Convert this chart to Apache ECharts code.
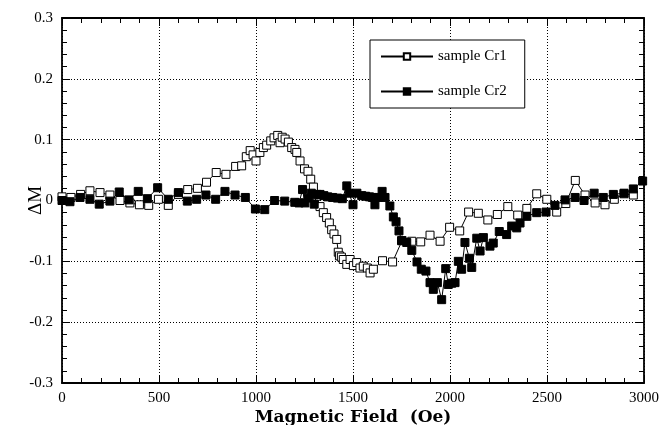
<!DOCTYPE html>
<html>
<head>
<meta charset="utf-8">
<script src="https://cdn.jsdelivr.net/npm/echarts@6/dist/echarts.min.js"></script>
<style>html,body{margin:0;padding:0;background:#fff}#c{width:664px;height:425px}</style>
</head>
<body>
<div id="c"></div>
<script>
var seriesNames = ['sample Cr1', 'sample Cr2'];
var xTicks = [0, 500, 1000, 1500, 2000, 2500, 3000];
var yTicks = [-0.3, -0.2, -0.1, 0, 0.1, 0.2, 0.3];

var cr1X = [0, 46, 96, 144, 196, 247, 299, 350, 399, 447, 497, 548, 600, 648, 698, 745, 795, 845, 895, 926, 950, 970, 985, 1000, 1020, 1038, 1055, 1076, 1093, 1112, 1124, 1135, 1150, 1167, 1184, 1201, 1210, 1227, 1250, 1268, 1282, 1296, 1313, 1330, 1347, 1364, 1378, 1390, 1402, 1416, 1424, 1430, 1440, 1450, 1468, 1485, 1502, 1519, 1536, 1553, 1574, 1588, 1605, 1652, 1704, 1753, 1803, 1849, 1897, 1949, 1998, 2050, 2096, 2146, 2195, 2244, 2298, 2349, 2396, 2447, 2499, 2550, 2597, 2646, 2696, 2748, 2799, 2847, 2897, 2945];
var cr1Y = [0.006, 0.005, 0.010, 0.016, 0.013, 0.009, 0.000, -0.004, -0.007, -0.008, 0.002, -0.008, 0.010, 0.018, 0.020, 0.030, 0.046, 0.043, 0.056, 0.057, 0.072, 0.082, 0.075, 0.065, 0.079, 0.087, 0.091, 0.098, 0.103, 0.107, 0.095, 0.104, 0.101, 0.096, 0.087, 0.084, 0.079, 0.065, 0.052, 0.048, 0.035, 0.022, 0.007, -0.010, -0.020, -0.028, -0.037, -0.048, -0.055, -0.064, -0.085, -0.091, -0.093, -0.097, -0.105, -0.097, -0.107, -0.102, -0.111, -0.108, -0.111, -0.119, -0.113, -0.099, -0.101, -0.066, -0.067, -0.068, -0.057, -0.067, -0.044, -0.050, -0.019, -0.021, -0.032, -0.023, -0.010, -0.024, -0.013, 0.011, 0.002, -0.019, -0.005, 0.033, 0.009, -0.004, -0.007, 0.002, 0.011, 0.009];

var cr2X = [0, 41, 93, 144, 192, 247, 295, 345, 393, 440, 493, 548, 600, 646, 694, 742, 792, 840, 892, 945, 997, 1045, 1096, 1148, 1200, 1222, 1240, 1252, 1268, 1285, 1300, 1315, 1330, 1350, 1370, 1395, 1420, 1445, 1468, 1480, 1500, 1520, 1545, 1565, 1585, 1600, 1613, 1630, 1650, 1665, 1690, 1708, 1722, 1737, 1750, 1777, 1803, 1830, 1852, 1876, 1897, 1914, 1935, 1957, 1978, 1991, 2009, 2026, 2043, 2060, 2077, 2100, 2112, 2138, 2155, 2172, 2206, 2223, 2254, 2292, 2318, 2344, 2361, 2396, 2447, 2495, 2541, 2593, 2645, 2691, 2743, 2790, 2842, 2897, 2945, 2993];
var cr2Y = [0.000, -0.002, 0.005, 0.002, -0.006, -0.001, 0.014, 0.001, 0.015, 0.003, 0.021, 0.002, 0.013, -0.001, 0.002, 0.009, 0.002, 0.015, 0.009, 0.005, -0.014, -0.015, 0.000, -0.001, -0.003, -0.004, 0.018, -0.004, 0.004, 0.012, -0.006, 0.010, 0.010, 0.008, 0.006, 0.005, 0.004, 0.003, 0.024, 0.012, -0.007, 0.012, 0.008, 0.007, 0.006, 0.005, -0.007, 0.005, 0.015, 0.005, -0.009, -0.027, -0.035, -0.050, -0.066, -0.069, -0.082, -0.101, -0.113, -0.116, -0.135, -0.146, -0.135, -0.163, -0.112, -0.138, -0.136, -0.135, -0.100, -0.113, -0.069, -0.095, -0.110, -0.062, -0.083, -0.061, -0.075, -0.070, -0.051, -0.056, -0.042, -0.045, -0.037, -0.026, -0.020, -0.019, -0.008, 0.001, 0.005, 0.000, 0.012, 0.005, 0.010, 0.012, 0.019, 0.032];

function pairs(xs, ys) { return xs.map(function (x, i) { return [x, ys[i]]; }); }

var serif = '"Liberation Serif", "DejaVu Serif", serif';
var chart = echarts.init(document.getElementById('c'), null, { renderer: 'canvas' });

function axisBase(pos, isX, main) {
  var ticks = isX ? xTicks : yTicks;
  return {
    type: 'value',
    position: pos,
    min: ticks[0],
    max: ticks[ticks.length - 1],
    interval: ticks[1] - ticks[0],
    axisLine: { show: true, onZero: false, lineStyle: { color: '#000', width: 1.8 } },
    axisTick: { show: true, inside: true, length: 8, lineStyle: { color: '#000', width: 1 } },
    minorTick: { show: true, splitNumber: 5, length: 5, lineStyle: { color: '#000', width: 1 } },
    splitLine: { show: main, lineStyle: { color: '#000', type: [1, 2], width: 1 } },
    nameMoveOverlap: false,
    axisLabel: main ? {
      show: true, color: '#000', fontFamily: serif, fontSize: 15,
      margin: isX ? 8 : 9,
      formatter: function (v) { return isX ? String(Math.round(v)) : (Math.round(v * 10) / 10).toString(); }
    } : { show: false }
  };
}

var xMain = axisBase('bottom', true, true);
xMain.name = 'Magnetic Field  (Oe)';
xMain.nameLocation = 'middle';
xMain.nameGap = 26;
xMain.nameTextStyle = { color: '#000', fontFamily: '"DejaVu Serif", serif', fontSize: 17, fontWeight: 'bold' };
var yMain = axisBase('left', false, true);
yMain.name = 'ΔM';
yMain.nameLocation = 'middle';
yMain.nameGap = 16;
yMain.nameRotate = 90;
yMain.nameTextStyle = { color: '#000', fontFamily: serif, fontSize: 19 };

var option = {
  backgroundColor: '#fff',
  animation: false,
  grid: { left: 62, right: 20, top: 18, bottom: 42, containLabel: false, outerBoundsMode: 'none' },
  xAxis: [xMain, axisBase('top', true, false)],
  yAxis: [yMain, axisBase('right', false, false)],
  legend: {
    data: seriesNames,
    orient: 'vertical',
    left: 370,
    top: 40,
    backgroundColor: '#fff',
    borderColor: '#000',
    borderWidth: 1,
    padding: [9, 18, 9, 10],
    itemGap: 20,
    itemWidth: 52,
    itemHeight: 8,
    textStyle: { color: '#000', fontFamily: serif, fontSize: 15 }
  },
  series: [
    {
      name: seriesNames[0], type: 'line', data: pairs(cr1X, cr1Y),
      symbol: 'rect', symbolSize: 8, showAllSymbol: true, z: 3,
      lineStyle: { color: '#000', width: 1 },
      itemStyle: { color: '#fff', borderColor: '#000', borderWidth: 1 }
    },
    {
      name: seriesNames[1], type: 'line', data: pairs(cr2X, cr2Y),
      symbol: 'rect', symbolSize: 8, showAllSymbol: true, z: 4,
      lineStyle: { color: '#000', width: 1 },
      itemStyle: { color: '#000', borderColor: '#000', borderWidth: 1 }
    }
  ]
};
chart.setOption(option);
</script>
</body>
</html>
